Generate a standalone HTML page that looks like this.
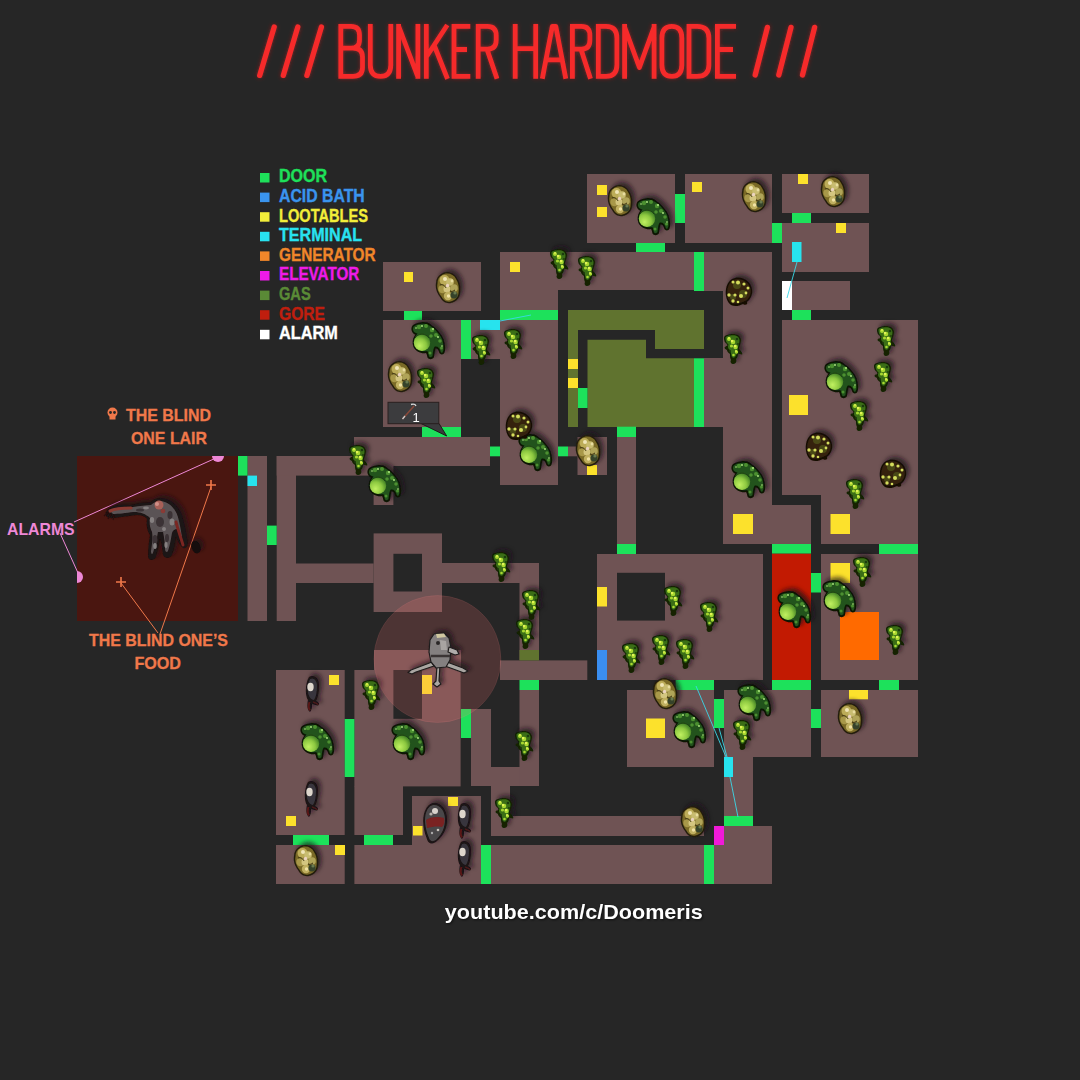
<!DOCTYPE html><html><head><meta charset="utf-8"><style>html,body{margin:0;padding:0;background:#262626;}svg{display:block;}</style></head><body>
<svg width="1080" height="1080" viewBox="0 0 1080 1080" font-family="Liberation Sans, sans-serif">

<defs>
 <filter id="sh" x="-50%" y="-50%" width="200%" height="200%">
  <feGaussianBlur in="SourceAlpha" stdDeviation="2.2"/>
  <feOffset dx="3" dy="-3" result="b"/>
  <feFlood flood-color="#1a1018" flood-opacity="0.7"/>
  <feComposite in2="b" operator="in"/>
  <feMerge><feMergeNode/><feMergeNode in="SourceGraphic"/></feMerge>
 </filter>
 <filter id="glow" x="-10%" y="-30%" width="120%" height="160%">
  <feGaussianBlur in="SourceGraphic" stdDeviation="2.2" result="g0"/><feComponentTransfer in="g0" result="g"><feFuncA type="linear" slope="0.45"/></feComponentTransfer>
  <feMerge><feMergeNode in="g"/><feMergeNode in="SourceGraphic"/></feMerge>
 </filter>
 <radialGradient id="belly" cx="0.35" cy="0.7" r="0.75">
  <stop offset="0" stop-color="#c0f060"/><stop offset="0.55" stop-color="#8cc840"/><stop offset="1" stop-color="#3a7a22"/>
 </radialGradient>
 <radialGradient id="kh" cx="0.45" cy="0.4" r="0.6">
  <stop offset="0" stop-color="#e0d49a"/><stop offset="0.6" stop-color="#9a8a48"/><stop offset="1" stop-color="#4a4018"/>
 </radialGradient>
 <g id="big">
  <path d="M-16.5,-12 C-16,-16 -11,-17 -7.7,-17.6 C-4,-18.5 0,-18 2.5,-15.7 C6,-13 9,-11 10,-9 C13,-6 16,-2 16.5,3 C17.5,8 17.5,12 15.5,14 C13.5,15 11.5,14 11,12 C10.5,10 9,8 7.5,8.5 C7,10 6.5,14 6,17 C5,19.5 1,20 -0.5,17.5 C-1,16 -1,14 -2,13 C-6,14 -12,12 -14.5,7 C-16,3 -15.5,-1 -13.5,-4 L-12.5,-5.5 C-14,-5.5 -17,-8 -16.5,-12 Z" fill="#0a1406"/>
  <path d="M-15,-11.5 C-14.5,-14.5 -10.5,-15.5 -7.5,-16 C-4,-16.8 -0.5,-16.3 1.8,-14.2 C5,-12 8,-10 9,-8 C12,-5 14.6,-1.5 15,3 C15.8,7 15.8,11 14.5,12.5 C13,13.2 12.5,12 12.3,10.5 C11.5,8 9.5,6 7,6.5 C5.5,7.5 5,12 4.6,15.5 C4,17.5 1.5,17.8 0.8,16 C0.5,14 0.5,12 -1,11 C-5,12 -11,10 -13,6 C-14.5,2.5 -14,-1 -12,-4.5 L-10.5,-6.5 C-13,-7 -15.3,-8.5 -15,-11.5 Z" fill="#22521a"/>
  <g fill="#4c9030"><circle cx="-9" cy="-13" r="2.2"/><circle cx="-2" cy="-14" r="2"/><circle cx="4" cy="-10" r="2.2"/><circle cx="8" cy="-5" r="2"/><circle cx="12" cy="1" r="1.8"/><circle cx="13.5" cy="8" r="1.5"/><circle cx="3" cy="-4" r="1.8"/><circle cx="2" cy="13" r="1.5"/></g>
  <g fill="#b8f08a"><circle cx="-6" cy="-14" r="0.9"/><circle cx="5" cy="-11" r="0.9"/><circle cx="10" cy="-3" r="0.9"/><circle cx="14" cy="6" r="0.8"/><circle cx="-12" cy="-12" r="0.8"/></g>
  <ellipse cx="-6" cy="2.5" rx="8.2" ry="8.4" fill="url(#belly)"/>
  <path d="M-13,-2 C-10,-7 -2,-7 1,-2" stroke="#183a10" stroke-width="1" fill="none" opacity="0.8"/>
 </g>
 <g id="small">
  <path d="M-9,-11 C-9,-14 -4,-15 0,-15 C4,-15 8,-13 8,-9 C8,-5 6,-3 6,0 C8,2 10,4 9,5.5 C7,5.5 6,4.5 5,4.5 C5,7 4,9 3,10 C4,12 3,15 0,15 C-2,15 -3,13 -2,11 C-3,9 -3,7 -3,5 C-5,4 -6,2 -6,1 C-8,0 -9.5,-1 -7.5,-2.5 C-6,-2.5 -5,-3 -6,-5 C-8,-6 -9,-8 -9,-11 Z" fill="#122206"/>
  <path d="M-7.5,-11 C-7.5,-13 -3.5,-13.8 0,-13.8 C3.5,-13.8 6.5,-12 6.5,-8.5 C6.5,-5 4.8,-3 4.8,0 C4.8,3 3.5,6 2,8 C1,9 -1,9 -1.5,7 C-2,5 -2,3 -3,1 C-5,0 -5.5,-2 -4.5,-4.5 C-6.5,-6 -7.5,-8 -7.5,-11 Z" fill="#3a6e16"/>
  <g fill="#a8d830"><circle cx="-4" cy="-10" r="2"/><circle cx="0" cy="-7" r="2.3"/><circle cx="2.5" cy="-2" r="2.2"/><circle cx="-1.5" cy="-3" r="1.6"/><circle cx="3.5" cy="3" r="1.7"/><circle cx="0.5" cy="6" r="1.3"/></g>
  <g fill="#e4f458"><circle cx="-1" cy="-8" r="1.2"/><circle cx="2" cy="-3" r="1.2"/><circle cx="3" cy="2" r="0.9"/><circle cx="-4" cy="-11" r="0.9"/></g>
  <g fill="#1e3a0c"><circle cx="4" cy="-10" r="1.3"/><circle cx="-3" cy="2" r="1"/><circle cx="5" cy="-5" r="0.9"/></g>
 </g>
 <g id="khaki">
  <path d="M-7,-13 C-2,-17 6,-15 9,-9 C12,-5 13,1 12,6 C12,11 8,15 3,16 C-2,17 -6,14 -8,10 C-11,6 -13,1 -12,-4 C-12,-8 -10,-11 -7,-13 Z" fill="#241e0a"/>
  <path d="M-6.5,-11.5 C-2,-15 5.5,-13.5 8,-8 C10.5,-4.5 11.5,1 10.5,5.5 C10.5,10 7,13.5 2.5,14.5 C-2,15.5 -5,12.5 -7,9 C-9.5,5.5 -11.5,1 -10.5,-3.5 C-10.5,-7.5 -9,-10 -6.5,-11.5 Z" fill="#7a6a28"/>
  <circle cx="-3.5" cy="-7" r="5" fill="#bcac58"/><circle cx="2" cy="-5" r="3.8" fill="#c8bc70"/><circle cx="-5.5" cy="2" r="4.2" fill="#a89848"/>
  <circle cx="-1" cy="2" r="3.5" fill="#d4c680"/><circle cx="0" cy="9" r="4.2" fill="#c0b060"/><circle cx="6" cy="1" r="3.8" fill="#b0a458"/>
  <circle cx="6" cy="8" r="3.6" fill="#34422a"/><circle cx="7" cy="6" r="1.6" fill="#6a7a50"/>
  <circle cx="-3" cy="-8" r="2" fill="#f0e6b8"/><circle cx="-0.5" cy="-1.5" r="1.7" fill="#ecd4c0"/><circle cx="0.5" cy="9" r="1.7" fill="#f0e2a4"/><circle cx="4" cy="-6" r="1.4" fill="#e8dca0"/>
  <path d="M-8,-2 C-5,-3 -3,-1 -2,1 M2,4 C4,5 5,4 7,3" stroke="#3a3010" stroke-width="1" fill="none"/>
 </g>
 <g id="spot">
  <path d="M-4,-13 C4,-15 12,-9 13,-2 C14,4 11,9 8,11 C9,13 7,15 4,13 C0,15 -4,16 -8,14 C-12,11 -14,5 -13,-2 C-12,-8 -9,-12 -4,-13 Z" fill="#180e06"/>
  <path d="M-3.5,-11.5 C3.5,-13 10.5,-8 11.5,-2 C12.5,3 10,7.5 7,9.5 C2,12 -4,13.5 -7.5,12 C-11,9.5 -12.5,5 -11.5,-1.5 C-10.5,-7 -8,-10.5 -3.5,-11.5 Z" fill="#34240e"/>
  <g fill="#4a4a18"><circle cx="-2" cy="-6" r="4"/><circle cx="4" cy="3" r="4"/><circle cx="-6" cy="6" r="3"/></g>
  <g fill="#d4dc5c"><circle cx="-6" cy="-9" r="1.5"/><circle cx="-1" cy="-8.5" r="2"/><circle cx="5" cy="-7" r="1.6"/><circle cx="9" cy="-3" r="1.5"/><circle cx="-10" cy="4" r="1.7"/><circle cx="-4" cy="4" r="1.6"/><circle cx="2" cy="5" r="2"/><circle cx="7" cy="2" r="1.4"/><circle cx="-6" cy="10" r="1.7"/><circle cx="-1" cy="11" r="1.3"/></g>
 </g>
 <g id="grey">
  <path d="M-4,-17 C1,-20 6,-16 6,-9 C6,-3 5,3 3,7 C6,8 7,10 5,11.5 C3,12 1,10 -1,10 C-1,13 -1,16 -3,18 C-6,16 -6,10 -5,6 C-8,2 -8,-10 -4,-17 Z" fill="#1a1214"/>
  <path d="M-3,-15 C1,-17 4,-13 4,-8 C4,-2 3,3 1,6 C-2,6 -4,3 -5,-1 C-6,-6 -5,-11 -3,-15 Z" fill="#38363c"/>
  <ellipse cx="-2.5" cy="-7" rx="3.2" ry="4.2" fill="#ddd6cc"/>
  <path d="M-3.5,8 C-5,12 -4,15 -3,16.5" stroke="#5a1818" stroke-width="2" fill="none"/>
  <path d="M0,8 C3,9 5,10 5,11" stroke="#4a1a1a" stroke-width="1.4" fill="none"/>
 </g>
 <g id="brute">
  <path d="M-2,-21 C6,-22 12,-14 12,-5 C12,5 8,12 2,17 C-2,21 -7,20 -8,15 C-11,8 -13,-2 -11,-10 C-9,-17 -6,-20 -2,-21 Z" fill="#1a1214"/>
  <path d="M-2,-19 C5,-20 10,-13 10,-5 C10,4 7,10 2,15 C-1,18 -5,18 -6,14 C-9,7 -11,-2 -9.5,-9.5 C-8,-15.5 -5.5,-18 -2,-19 Z" fill="#4a4648"/>
  <path d="M-9,-4 C-5,-7 3,-8 9,-6 C10,-2 9,1 7,3 C2,2 -4,3 -8,4 Z" fill="#7a2020"/>
  <circle cx="0" cy="-13" r="3" fill="#d8d2cc"/><circle cx="-4" cy="-10" r="1.6" fill="#b8b2ac"/><circle cx="3" cy="6" r="1.3" fill="#c8c2bc"/><circle cx="-3" cy="9" r="1.2" fill="#aaa"/>
 </g>
</defs>
<rect x="0" y="0" width="1080" height="1080" fill="#262626"/>
<g filter="url(#glow)"><g fill="none" stroke="#f62a2a" stroke-width="4.8" stroke-linejoin="round"><path d="M259.70000000000005,75.4 L274.2,27.0" stroke-linecap="round" stroke-width="5.3"/><path d="M283.3,75.4 L297.8,27.0" stroke-linecap="round" stroke-width="5.3"/><path d="M306.90000000000003,75.4 L321.4,27.0" stroke-linecap="round" stroke-width="5.3"/><path d="M755.2,75.0 L767.4000000000001,27.400000000000002" stroke-linecap="round" stroke-width="5.3"/><path d="M778.8000000000001,75.0 L791.0,27.400000000000002" stroke-linecap="round" stroke-width="5.3"/><path d="M802.5,75.0 L814.6,27.400000000000002" stroke-linecap="round" stroke-width="5.3"/><path d="M340.8,24 V78.8 M340.8,26.4 H351 Q359.5,26.4 359.5,35 V40 Q359.5,48.2 351,48.2 H340.8 M351,48.2 H353 Q362.5,48.2 362.5,57 V67.5 Q362.5,76.4 353,76.4 H340.8"/><path d="M370.3,24 V65 Q370.3,76.4 380.55,76.4 Q390.8,76.4 390.8,65 V24"/><path d="M398.6,24 V78.8 M417.9,24 V78.8 M398.6,26 L417.9,77"/><path d="M426.3,24 V78.8 M426.3,57 L447.3,25 M434.3,45.5 L447.5,78.8"/><path d="M454,24 V78.8 M451.6,26.4 H470.3 M454,49.5 H467 M451.6,76.4 H470.3"/><path d="M478.2,24 V78.8 M478.2,26.4 H487.5 Q496.2,26.4 496.2,35.5 V40 Q496.2,49.2 487.5,49.2 H478.2 M487,49.2 L497,78.8"/><path d="M515.2,24 V78.8 M535.7,24 V78.8 M515.2,48.7 H535.7"/><path d="M542.3,78.8 L552.3,26.4 H555.8 L565.8,78.8 M546,59.8 H562"/><path d="M572.4,24 V78.8 M572.4,26.4 H581.5 Q589.9,26.4 589.9,35.5 V40 Q589.9,49.2 581.5,49.2 H572.4 M581,49.2 L590.5,78.8"/><path d="M598.3,24 V78.8 M598.3,26.4 H606 Q616.9,26.4 616.9,38 V65 Q616.9,76.4 606,76.4 H598.3"/><path d="M624.6,24 V78.8 M654.1,24 V78.8 M624.6,27 L639.4,67.5 L654.1,27"/><path d="M661.9,38 Q661.9,26.4 671.85,26.4 Q681.8,26.4 681.8,38 V65 Q681.8,76.4 671.85,76.4 Q661.9,76.4 661.9,65 Z"/><path d="M689,24 V78.8 M689,26.4 H697 Q708.9,26.4 708.9,38 V65 Q708.9,76.4 697,76.4 H689"/><path d="M717.4,24 V78.8 M715,26.4 H736 M717.4,49.5 H733 M715,76.4 H736"/></g></g>
<rect x="260" y="173.0" width="9.5" height="9.5" fill="#1ee05a"/>
<text x="279" y="182.3" font-size="17.5" font-weight="bold" fill="#1ee05a" stroke="#1ee05a" stroke-width="0.35" textLength="48.1" lengthAdjust="spacingAndGlyphs">DOOR</text>
<rect x="260" y="192.6" width="9.5" height="9.5" fill="#3a94ee"/>
<text x="279" y="201.9" font-size="17.5" font-weight="bold" fill="#3a94ee" stroke="#3a94ee" stroke-width="0.35" textLength="85.7" lengthAdjust="spacingAndGlyphs">ACID BATH</text>
<rect x="260" y="212.2" width="9.5" height="9.5" fill="#f2ee3a"/>
<text x="279" y="221.5" font-size="17.5" font-weight="bold" fill="#f2ee3a" stroke="#f2ee3a" stroke-width="0.35" textLength="89" lengthAdjust="spacingAndGlyphs">LOOTABLES</text>
<rect x="260" y="231.8" width="9.5" height="9.5" fill="#28e2f0"/>
<text x="279" y="241.1" font-size="17.5" font-weight="bold" fill="#28e2f0" stroke="#28e2f0" stroke-width="0.35" textLength="83.1" lengthAdjust="spacingAndGlyphs">TERMINAL</text>
<rect x="260" y="251.4" width="9.5" height="9.5" fill="#f0862a"/>
<text x="279" y="260.7" font-size="17.5" font-weight="bold" fill="#f0862a" stroke="#f0862a" stroke-width="0.35" textLength="96.6" lengthAdjust="spacingAndGlyphs">GENERATOR</text>
<rect x="260" y="271.0" width="9.5" height="9.5" fill="#ee1ae8"/>
<text x="279" y="280.3" font-size="17.5" font-weight="bold" fill="#ee1ae8" stroke="#ee1ae8" stroke-width="0.35" textLength="80.3" lengthAdjust="spacingAndGlyphs">ELEVATOR</text>
<rect x="260" y="290.6" width="9.5" height="9.5" fill="#5a8a36"/>
<text x="279" y="299.9" font-size="17.5" font-weight="bold" fill="#5a8a36" stroke="#5a8a36" stroke-width="0.35" textLength="31.7" lengthAdjust="spacingAndGlyphs">GAS</text>
<rect x="260" y="310.2" width="9.5" height="9.5" fill="#c01e0e"/>
<text x="279" y="319.5" font-size="17.5" font-weight="bold" fill="#c01e0e" stroke="#c01e0e" stroke-width="0.35" textLength="46" lengthAdjust="spacingAndGlyphs">GORE</text>
<rect x="260" y="329.8" width="9.5" height="9.5" fill="#ffffff"/>
<text x="279" y="339.1" font-size="17.5" font-weight="bold" fill="#ffffff" stroke="#ffffff" stroke-width="0.35" textLength="58.8" lengthAdjust="spacingAndGlyphs">ALARM</text>
<rect x="77" y="456" width="161" height="165" fill="#4a1610"/>
<rect x="587" y="174" width="88" height="69" fill="#6f5354"/>
<rect x="685" y="174" width="87" height="69" fill="#6f5354"/>
<rect x="782" y="174" width="87" height="39" fill="#6f5354"/>
<rect x="782" y="223" width="87" height="49" fill="#6f5354"/>
<rect x="782" y="281" width="68" height="29" fill="#6f5354"/>
<rect x="383" y="262" width="98" height="49" fill="#6f5354"/>
<rect x="500" y="252" width="194" height="38" fill="#6f5354"/>
<rect x="500" y="290" width="58" height="20" fill="#6f5354"/>
<rect x="500" y="320" width="58" height="165" fill="#6f5354"/>
<rect x="471" y="320" width="29" height="39" fill="#6f5354"/>
<rect x="383" y="320" width="78" height="107" fill="#6f5354"/>
<rect x="704" y="252" width="68" height="39" fill="#6f5354"/>
<rect x="723" y="291" width="49" height="67" fill="#6f5354"/>
<rect x="704" y="358" width="68" height="69" fill="#6f5354"/>
<rect x="723" y="427" width="49" height="117" fill="#6f5354"/>
<rect x="772" y="505" width="39" height="39" fill="#6f5354"/>
<rect x="782" y="320" width="136" height="175" fill="#6f5354"/>
<rect x="821" y="495" width="97" height="49" fill="#6f5354"/>
<rect x="821" y="554" width="97" height="126" fill="#6f5354"/>
<rect x="597" y="554" width="166" height="126" fill="#6f5354"/>
<rect x="627" y="690" width="87" height="77" fill="#6f5354"/>
<rect x="724" y="690" width="87" height="67" fill="#6f5354"/>
<rect x="724" y="757" width="29" height="59" fill="#6f5354"/>
<rect x="821" y="690" width="97" height="67" fill="#6f5354"/>
<rect x="724" y="826" width="48" height="58" fill="#6f5354"/>
<rect x="714" y="845" width="10" height="39" fill="#6f5354"/>
<rect x="491" y="845" width="213" height="39" fill="#6f5354"/>
<rect x="491" y="816" width="213" height="20" fill="#6f5354"/>
<rect x="491" y="786" width="19" height="50" fill="#6f5354"/>
<rect x="471" y="709" width="20" height="77" fill="#6f5354"/>
<rect x="471" y="767" width="68" height="19" fill="#6f5354"/>
<rect x="519.5" y="690" width="19.5" height="96" fill="#6f5354"/>
<rect x="617" y="437" width="19" height="107" fill="#6f5354"/>
<rect x="577.5" y="437" width="29.5" height="38" fill="#6f5354"/>
<rect x="568" y="446.5" width="9.5" height="9.8" fill="#6f5354"/>
<rect x="354" y="437" width="136" height="29" fill="#6f5354"/>
<rect x="247.5" y="456" width="19.5" height="165" fill="#6f5354"/>
<rect x="276.7" y="456" width="19.3" height="165" fill="#6f5354"/>
<rect x="276.7" y="456" width="96.9" height="19.6" fill="#6f5354"/>
<rect x="296" y="563.5" width="77.6" height="19.5" fill="#6f5354"/>
<rect x="373.6" y="466" width="19.8" height="39" fill="#6f5354"/>
<rect x="373.6" y="533.4" width="68.4" height="78.6" fill="#6f5354"/>
<rect x="442" y="563" width="97" height="20" fill="#6f5354"/>
<rect x="519.5" y="563" width="19.5" height="97" fill="#6f5354"/>
<rect x="500" y="660.4" width="87.3" height="19.6" fill="#6f5354"/>
<rect x="276" y="670" width="68.7" height="165" fill="#6f5354"/>
<rect x="354.4" y="670" width="106.2" height="116.4" fill="#6f5354"/>
<rect x="374" y="650" width="87" height="20" fill="#6f5354"/>
<rect x="354.4" y="786" width="48.6" height="49" fill="#6f5354"/>
<rect x="412" y="796" width="69" height="49" fill="#6f5354"/>
<rect x="354.4" y="845" width="126.6" height="39" fill="#6f5354"/>
<rect x="276" y="845" width="68.7" height="39" fill="#6f5354"/>
<rect x="393.4" y="553.8" width="28.6" height="37.7" fill="#262626"/>
<rect x="617" y="572.8" width="48" height="47.8" fill="#262626"/>
<rect x="393.4" y="670" width="28.6" height="48.8" fill="#262626"/>
<path d="M568,310 H704 V349 H655 V330 H578 V427 H568 Z" fill="#60732f"/>
<path d="M587.5,339.7 H646 V358.3 H694 V427 H587.5 Z" fill="#60732f"/>
<rect x="519.5" y="650" width="19.5" height="10.4" fill="#60732f"/>
<rect x="772" y="553.5" width="39" height="126.5" fill="#c21a02"/>
<rect x="840" y="612" width="39" height="48" fill="#ff6a00"/>
<rect x="597" y="650" width="10" height="30" fill="#3a8ef0"/>
<rect x="714" y="826" width="10" height="19" fill="#f01ad8"/>
<rect x="782" y="281" width="10" height="29" fill="#ffffff"/>
<rect x="404" y="311" width="18" height="9" fill="#1de15b"/>
<rect x="461" y="320" width="10" height="39" fill="#1de15b"/>
<rect x="500" y="310" width="58" height="10" fill="#1de15b"/>
<rect x="636" y="243" width="29" height="9" fill="#1de15b"/>
<rect x="675" y="194" width="10" height="29" fill="#1de15b"/>
<rect x="694" y="252" width="10" height="39" fill="#1de15b"/>
<rect x="772" y="223" width="10" height="20" fill="#1de15b"/>
<rect x="792" y="213" width="19" height="10" fill="#1de15b"/>
<rect x="792" y="310" width="19" height="10" fill="#1de15b"/>
<rect x="694" y="358.3" width="10" height="68.7" fill="#1de15b"/>
<rect x="578" y="388" width="9.5" height="20" fill="#1de15b"/>
<rect x="617" y="426.7" width="19" height="10.3" fill="#1de15b"/>
<rect x="558" y="446.5" width="10" height="9.8" fill="#1de15b"/>
<rect x="490" y="446.5" width="10" height="9.8" fill="#1de15b"/>
<rect x="422" y="427" width="39" height="10" fill="#1de15b"/>
<rect x="238" y="456" width="9.5" height="19.6" fill="#1de15b"/>
<rect x="267" y="525.6" width="9.7" height="19.4" fill="#1de15b"/>
<rect x="617" y="544" width="19" height="10" fill="#1de15b"/>
<rect x="772" y="544" width="39" height="9.5" fill="#1de15b"/>
<rect x="879" y="544" width="39" height="10" fill="#1de15b"/>
<rect x="811" y="573" width="10" height="19.5" fill="#1de15b"/>
<rect x="675.6" y="680" width="38.4" height="10" fill="#1de15b"/>
<rect x="772" y="680" width="39" height="10" fill="#1de15b"/>
<rect x="879" y="680" width="20" height="10" fill="#1de15b"/>
<rect x="714" y="699" width="10" height="29" fill="#1de15b"/>
<rect x="811" y="709" width="10" height="19" fill="#1de15b"/>
<rect x="724" y="816" width="29" height="10" fill="#1de15b"/>
<rect x="704" y="845" width="10" height="39" fill="#1de15b"/>
<rect x="519.5" y="680" width="19.5" height="10" fill="#1de15b"/>
<rect x="461" y="709" width="10" height="29" fill="#1de15b"/>
<rect x="344.7" y="719" width="9.7" height="58" fill="#1de15b"/>
<rect x="293" y="835" width="36" height="10" fill="#1de15b"/>
<rect x="364" y="835" width="29" height="10" fill="#1de15b"/>
<rect x="481" y="845" width="10" height="39" fill="#1de15b"/>
<rect x="404" y="272" width="9" height="10" fill="#fce12c"/>
<rect x="510" y="262" width="10" height="10" fill="#fce12c"/>
<rect x="597" y="185" width="10" height="10" fill="#fce12c"/>
<rect x="597" y="207" width="10" height="10" fill="#fce12c"/>
<rect x="692" y="182" width="10" height="10" fill="#fce12c"/>
<rect x="798" y="174" width="10" height="10" fill="#fce12c"/>
<rect x="836" y="223" width="10" height="10" fill="#fce12c"/>
<rect x="568" y="359" width="10" height="10" fill="#fce12c"/>
<rect x="568" y="378" width="10" height="10" fill="#fce12c"/>
<rect x="587" y="465" width="10" height="10" fill="#fce12c"/>
<rect x="789" y="395" width="19" height="20" fill="#fce12c"/>
<rect x="733" y="514" width="20" height="20" fill="#fce12c"/>
<rect x="830.5" y="514" width="19.5" height="20" fill="#fce12c"/>
<rect x="830.5" y="563" width="19.5" height="20" fill="#fce12c"/>
<rect x="597" y="587" width="10" height="19.5" fill="#fce12c"/>
<rect x="646" y="718.5" width="19" height="19.5" fill="#fce12c"/>
<rect x="849" y="690" width="19" height="9.3" fill="#fce12c"/>
<rect x="422" y="675" width="10" height="19" fill="#fce12c"/>
<rect x="329" y="675" width="10" height="10" fill="#fce12c"/>
<rect x="286" y="816" width="10" height="10" fill="#fce12c"/>
<rect x="335" y="845" width="10" height="10" fill="#fce12c"/>
<rect x="448" y="797" width="10" height="9" fill="#fce12c"/>
<rect x="413" y="826" width="9.5" height="9.5" fill="#fce12c"/>
<rect x="480" y="320" width="20" height="10" fill="#27e3ee"/>
<rect x="792" y="242" width="9.5" height="20" fill="#27e3ee"/>
<rect x="247.5" y="475.6" width="9.5" height="10.4" fill="#27e3ee"/>
<rect x="724" y="757" width="9" height="20" fill="#27e3ee"/>
<g stroke="#3ad8e8" stroke-width="1" fill="none" opacity="0.9"><path d="M797,262 L787,298"/><path d="M696,686 L726,757"/><path d="M719,728 L727,757"/><path d="M730,777 L738,817"/><path d="M500,321 L531,315"/></g>
<g filter="url(#sh)">
<use href="#big" x="428" y="340"/>
<use href="#big" x="535" y="452"/>
<use href="#big" x="653" y="216"/>
<use href="#big" x="384" y="483"/>
<use href="#big" x="841" y="379"/>
<use href="#big" x="748" y="479"/>
<use href="#big" x="839" y="598"/>
<use href="#big" x="794" y="609"/>
<use href="#big" x="689" y="729"/>
<use href="#big" x="754" y="702"/>
<use href="#big" x="317" y="741"/>
<use href="#big" x="408" y="741"/>
<use href="#small" x="481" y="350"/>
<use href="#small" x="513" y="344"/>
<use href="#small" x="426" y="383"/>
<use href="#small" x="559" y="264"/>
<use href="#small" x="587" y="271"/>
<use href="#small" x="733" y="349"/>
<use href="#small" x="886" y="341"/>
<use href="#small" x="883" y="377"/>
<use href="#small" x="859" y="416"/>
<use href="#small" x="855" y="494"/>
<use href="#small" x="358" y="460"/>
<use href="#small" x="501" y="567"/>
<use href="#small" x="531" y="605"/>
<use href="#small" x="525" y="634"/>
<use href="#small" x="673" y="601"/>
<use href="#small" x="709" y="617"/>
<use href="#small" x="631" y="658"/>
<use href="#small" x="661" y="650"/>
<use href="#small" x="685" y="654"/>
<use href="#small" x="862" y="572"/>
<use href="#small" x="895" y="640"/>
<use href="#small" x="742" y="735"/>
<use href="#small" x="371" y="695"/>
<use href="#small" x="524" y="746"/>
<use href="#small" x="504" y="813"/>
<use href="#khaki" x="448" y="287"/>
<use href="#khaki" x="400" y="376"/>
<use href="#khaki" x="588" y="450"/>
<use href="#khaki" x="620" y="200"/>
<use href="#khaki" x="754" y="196"/>
<use href="#khaki" x="833" y="191"/>
<use href="#khaki" x="665" y="693"/>
<use href="#khaki" x="850" y="718"/>
<use href="#khaki" x="693" y="821"/>
<use href="#khaki" x="306" y="860"/>
<use href="#spot" x="519" y="425"/>
<use href="#spot" x="739" y="291"/>
<use href="#spot" x="819" y="446"/>
<use href="#spot" x="893" y="473"/>
<use href="#grey" x="313" y="694"/>
<use href="#grey" x="312" y="799"/>
<use href="#grey" x="465" y="821"/>
<use href="#grey" x="465" y="859"/>
<use href="#brute" x="435" y="824"/>
</g>
<circle cx="437.4" cy="659" r="63.5" fill="rgba(255,115,115,0.18)" stroke="rgba(255,140,140,0.12)" stroke-width="1"/>
<g filter="url(#sh)">
 <g stroke="#1e1c1c" stroke-width="1.2" stroke-linejoin="round">
  <path d="M432,662 L411,670 L408,672.5 L412,674 L416,672 L434,666 Z" fill="#aaa6a2"/>
  <path d="M447,662 L463,668 L468,671 L464,673 L460,671.5 L445,666 Z" fill="#aaa6a2"/>
  <path d="M437,665 L436,681 L433,684 L437,687 L441,684 L439,681 L440,665 Z" fill="#aaa6a2"/>
  <path d="M430,640 L434,634 L444,633 L449,638 L451,648 L450,660 L446,667 L436,668 L431,662 L429,652 Z" fill="#848080"/>
  <path d="M449,647 L457,650 L459,654 L455,655 L448,652 Z" fill="#b0acaa"/>
 </g>
 <path d="M436,634 L444,633.5 L446,637 L437,638 Z" fill="#d0c8a0"/>
 <path d="M431,656 L450,656" stroke="#3a3636" stroke-width="2.5" fill="none"/>
 <path d="M440,640 L446,641 L447,650 L441,650 Z" fill="#a8a4a2"/>
 <circle cx="438" cy="643" r="2" fill="#2a2626"/>
</g>
<g font-weight="bold" font-size="17" fill="#f0784a" stroke="#f0784a" stroke-width="0.3">
<text x="126" y="420.5" textLength="85" lengthAdjust="spacingAndGlyphs">THE BLIND</text>
<text x="131" y="443.6" textLength="76" lengthAdjust="spacingAndGlyphs">ONE LAIR</text>
<text x="89" y="645.6" textLength="139" lengthAdjust="spacingAndGlyphs">THE BLIND ONE’S</text>
<text x="134.4" y="668.6" textLength="46.6" lengthAdjust="spacingAndGlyphs">FOOD</text>
</g>
<g transform="translate(112.5,413.5)" fill="#f0784a"><circle cx="0" cy="-1" r="5"/><rect x="-3" y="2" width="6" height="4"/><circle cx="-2" cy="-1" r="1.4" fill="#262626"/><circle cx="2" cy="-1" r="1.4" fill="#262626"/></g>
<text x="7" y="534.7" font-size="17" font-weight="bold" fill="#ee88d6" textLength="67.6" lengthAdjust="spacingAndGlyphs">ALARMS</text>
<g stroke-width="1" fill="none"><path d="M74,522 L216,458" stroke="#ee88d6"/><path d="M60,533 L78,573" stroke="#ee88d6"/><path d="M160,634 L211,487" stroke="#f0784a"/><path d="M158,633 L121,583" stroke="#f0784a"/></g>
<path d="M212,456 A6,6 0 0 0 224,456 Z" fill="#ee88d6"/><path d="M77,571 A6,6 0 0 1 77,583 Z" fill="#ee88d6"/>
<g stroke="#f0784a" stroke-width="1.6"><path d="M211,480 V490 M206,485 H216"/><path d="M121,577 V587 M116,582 H126"/></g>
<g filter="url(#sh)">
 <path d="M106,512 C110,505 120,504 130,505 C138,503 145,502 151,502 C154,498 161,497 166,499 C173,501 179,507 182,515 C184,522 186,530 187,538 C189,544 187,549 183,548 C180,546 178,541 176,537 C175,543 174,549 172,555 C170,559 165,559 163,555 C162,549 162,543 160,539 C159,545 157,551 156,557 C154,561 148,561 148,556 C148,549 149,541 150,535 C147,531 146,525 147,519 C145,516 141,515 137,515 C129,516 121,517 114,518 C109,519 104,517 106,512 Z" fill="#1c1212"/>
 <path d="M110,511 C116,507 125,508 133,507 C139,506 146,505 151,505 C155,501 160,500 165,502 C171,504 176,510 178,517 C180,524 181,531 182,537 C181,536 179,533 177,529 C175,529 173,530 172,533 C171,539 170,545 168,551 C167,553 165,552 165,549 C165,543 164,537 163,532 L158,532 C157,539 155,546 153,553 C152,555 151,554 151,551 C152,544 153,538 152,532 C150,528 149,523 150,518 C146,514 140,512 134,512 C126,513 118,514 113,514 Z" fill="#5a5254"/>
 <g fill="#3a3234"><ellipse cx="160" cy="522" rx="4" ry="5"/><ellipse cx="170" cy="515" rx="2.5" ry="4"/><ellipse cx="155" cy="540" rx="2.5" ry="5"/><ellipse cx="167" cy="538" rx="2" ry="4"/><ellipse cx="140" cy="510" rx="4" ry="1.6"/></g>
 <g fill="#858080"><ellipse cx="152" cy="520" rx="2.2" ry="3"/><ellipse cx="172" cy="522" rx="2.5" ry="3.5"/><ellipse cx="155" cy="546" rx="1.8" ry="3"/><ellipse cx="166" cy="545" rx="1.6" ry="3"/><ellipse cx="146" cy="508" rx="3" ry="1.4"/><ellipse cx="164" cy="529" rx="2" ry="2"/></g>
 <path d="M110,511 C116,508 124,508 131,508" stroke="#8a3a32" stroke-width="3.2" fill="none" stroke-linecap="round"/>
 <path d="M109,512 L104,516 M111,514 L108,519 M114,515 L113,520" stroke="#2a1210" stroke-width="1.3"/>
 <circle cx="159" cy="505" r="4.5" fill="#a86058"/><circle cx="157" cy="504" r="2" fill="#d09088"/><circle cx="163" cy="511" r="2.3" fill="#8a3a36"/>
 <path d="M176,522 C178,530 181,538 183,545" stroke="#7a2622" stroke-width="3" fill="none" stroke-linecap="round"/>
 <ellipse cx="196" cy="547" rx="4.5" ry="6.5" fill="#120a0a" transform="rotate(-20 196 547)"/>
</g>
<path d="M421,423.5 L446.7,436 L439,423.5 Z" fill="#3a3a3c" stroke="#1e1a1a" stroke-width="1"/>
<rect x="388" y="402.3" width="50.8" height="21.4" fill="#3c3c3e" stroke="#2a2020" stroke-width="1"/>
<path d="M402.5,419 L414,406" stroke="#8a4a3a" stroke-width="1.5"/><path d="M411,404.5 Q415,403.5 416,406" stroke="#d8d8d8" stroke-width="1.3" fill="none"/><path d="M402.5,419 L405,416" stroke="#cccccc" stroke-width="1.3"/>
<text x="412.5" y="422" font-size="13" fill="#ffffff">1</text>
<text x="444.8" y="919" font-size="21" font-weight="bold" fill="#ffffff" textLength="258" lengthAdjust="spacingAndGlyphs" style="filter:drop-shadow(1px 1px 1px rgba(0,0,0,0.6))">youtube.com/c/Doomeris</text>
</svg></body></html>
